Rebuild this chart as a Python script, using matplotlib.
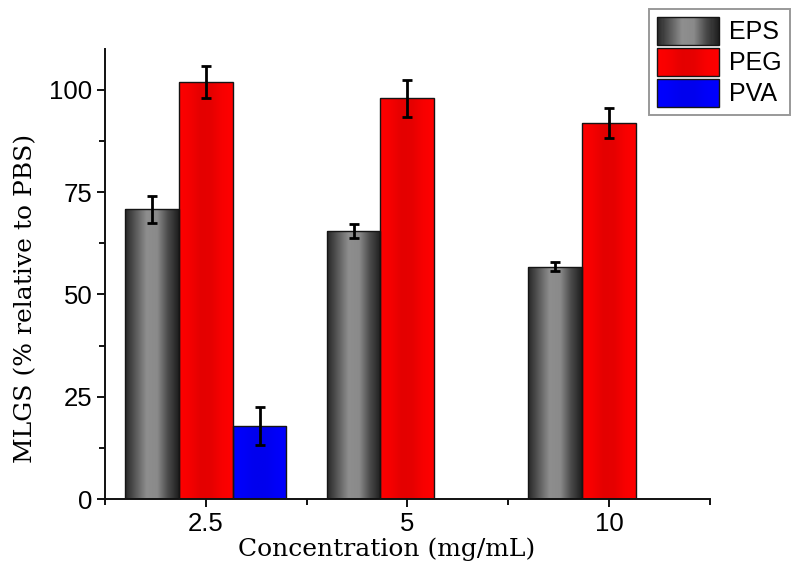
import numpy as np
import matplotlib
matplotlib.use("Agg")
import matplotlib.pyplot as plt
from matplotlib.colors import LinearSegmentedColormap
from matplotlib.patches import Rectangle
from matplotlib.legend_handler import HandlerBase
from matplotlib.ticker import FixedLocator

# ---- data ----
categories = ["2.5", "5", "10"]
series_names = ["EPS", "PEG", "PVA"]
eps_values = [70.8, 65.5, 56.8]
eps_errors = [3.3, 1.8, 1.1]
peg_values = [102.0, 97.9, 91.9]
peg_errors = [3.9, 4.6, 3.7]
pva_values = [17.9, np.nan, np.nan]
pva_errors = [4.6, np.nan, np.nan]

# ---- styles ----
grad_stops = {
    "EPS": ["#262626", "#5a5a5a", "#8e8e8e", "#8a8a8a", "#4a4a4a", "#1e1e1e"],
    "PEG": ["#ff0000", "#f50000", "#e40000", "#e60000", "#f80000", "#ff0000"],
    "PVA": ["#0000ff", "#0000f8", "#0000ee", "#0000ee", "#0000f8", "#0000ff"],
}
cmaps = {k: LinearSegmentedColormap.from_list(k, v) for k, v in grad_stops.items()}
grad = np.linspace(0, 1, 256).reshape(1, -1)

sans = "Liberation Sans"
serif = "DejaVu Serif"

fig = plt.figure(figsize=(8, 5.83), dpi=100)
ax = fig.add_axes([0.131, 0.144, 0.7565, 0.772])

x = np.arange(len(categories))
width = 0.267
offsets = [-width, 0, width]
all_vals = [eps_values, peg_values, pva_values]
all_errs = [eps_errors, peg_errors, pva_errors]

for name, vals, errs, off in zip(series_names, all_vals, all_errs, offsets):
    vals = np.array(vals, dtype=float)
    errs = np.array(errs, dtype=float)
    mask = ~np.isnan(vals)
    bars = ax.bar(x[mask] + off, vals[mask], width=width, facecolor="none",
                  edgecolor="#151515", linewidth=1.0, zorder=3)
    for p in bars.patches:
        x0, y0 = p.get_x(), p.get_y()
        w, h = p.get_width(), p.get_height()
        im = ax.imshow(grad, cmap=cmaps[name], extent=[x0, x0 + w, y0, y0 + h],
                       aspect="auto", origin="lower", zorder=2, interpolation="bicubic")
        im.set_clip_path(p)
    ax.errorbar(x[mask] + off, vals[mask], yerr=errs[mask], fmt="none",
                ecolor="black", elinewidth=2.0, capsize=3.3, capthick=2.0, zorder=4)

ax.set_xlim(-0.5, 2.5)
ax.set_ylim(0, 110)

ax.set_xticks(x)
ax.set_xticklabels(categories)
ax.xaxis.set_minor_locator(FixedLocator([-0.5, 0.5, 1.5, 2.5]))
ax.yaxis.set_major_locator(FixedLocator([0, 25, 50, 75, 100]))
ax.yaxis.set_minor_locator(FixedLocator([12.5, 37.5, 62.5, 87.5]))

for s in ["top", "right"]:
    ax.spines[s].set_visible(False)
for s in ["left", "bottom"]:
    ax.spines[s].set_linewidth(1.4)
    ax.spines[s].set_color("#111111")

ax.tick_params(axis="both", which="major", direction="out", length=6, width=1.4,
               color="#111111", labelsize=18.5, pad=3)
ax.tick_params(axis="both", which="minor", direction="out", length=4, width=1.4,
               color="#111111")
for lab in ax.get_xticklabels() + ax.get_yticklabels():
    lab.set_fontfamily(sans)

ax.set_xlabel("Concentration (mg/mL)", fontfamily=serif, fontsize=18)
ax.set_ylabel("MLGS (% relative to PBS)", fontfamily=serif, fontsize=18)
ax.xaxis.set_label_coords(0.465, -0.085)
ax.yaxis.set_label_coords(-0.112, 0.445)


class GradientHandler(HandlerBase):
    def __init__(self, cmap):
        super().__init__()
        self.cmap = cmap

    def create_artists(self, legend, orig_handle, xdescent, ydescent, width,
                       height, fontsize, trans):
        arts = []
        n = 60
        for i in range(n):
            c = self.cmap((i + 0.5) / n)
            r = Rectangle((-xdescent + width * i / n, -ydescent), width / n * 1.05, height,
                          facecolor=c, edgecolor="none", transform=trans,
                          antialiased=False)
            arts.append(r)
        outline = Rectangle((-xdescent, -ydescent), width, height, facecolor="none",
                            edgecolor="#151515", linewidth=1.0, transform=trans)
        arts.append(outline)
        return arts


handles = [Rectangle((0, 0), 1, 1) for _ in series_names]
handler_map = {h: GradientHandler(cmaps[n]) for h, n in zip(handles, series_names)}
leg = fig.legend(handles, series_names, handler_map=handler_map,
                 loc="upper right", bbox_to_anchor=(0.9875, 0.985),
                 bbox_transform=fig.transFigure, prop={"family": sans, "size": 18},
                 handlelength=2.45, handleheight=1.3, labelspacing=0.15,
                 handletextpad=0.4, borderpad=0.35, borderaxespad=0,
                 fancybox=False, frameon=True, shadow=False)
leg.get_frame().set_edgecolor("#7f7f7f")
leg.get_frame().set_linewidth(1.4)

fig.savefig("out.png", dpi=100)
